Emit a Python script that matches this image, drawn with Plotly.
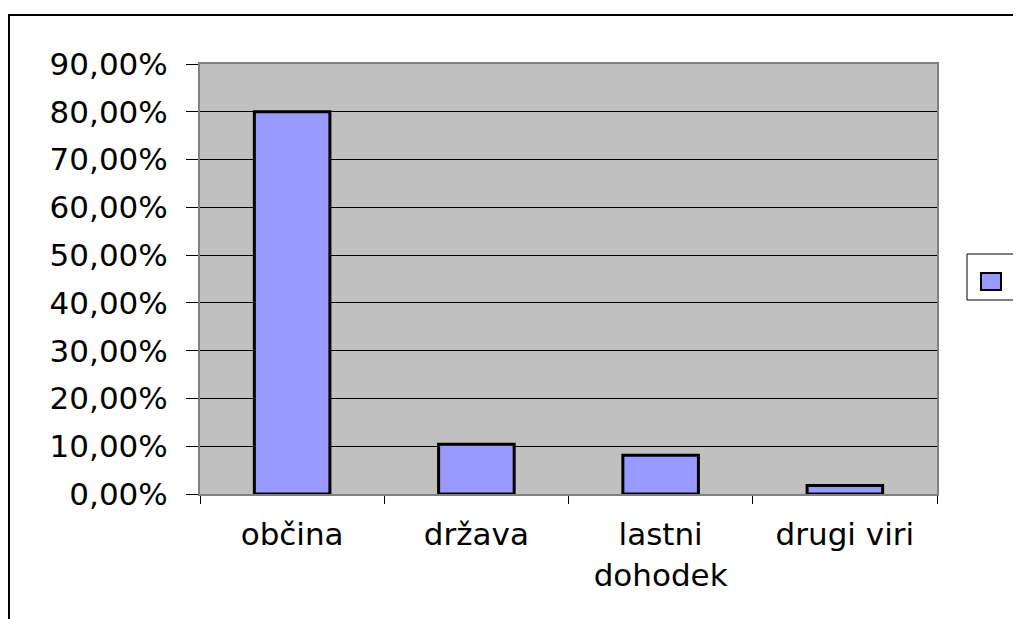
import plotly.graph_objects as go

# funding sources and their shares
categories = ["občina", "država", "lastni<br>dohodek", "drugi viri"]
shares = [0.80, 0.104, 0.081, 0.018]

y_ticks = [0.0, 0.1, 0.2, 0.3, 0.4, 0.5, 0.6, 0.7, 0.8, 0.9]

# the page body adds an 8px margin, so the figure itself is 8px smaller
OFF = 8
W, H = 1021 - OFF, 619 - OFF
L, R, T, B = 200 - OFF, 937 - OFF, 64 - OFF, 494 - OFF  # plot area in pixels


def px(x):
    return (x - OFF - L) / (R - L)


def py(y):
    return (B - (y - OFF)) / (B - T)


font = dict(family="DejaVu Sans", size=31, color="black")

fig = go.Figure(go.Bar(
    x=categories,
    y=shares,
    marker=dict(color="#9999FF", line=dict(color="black", width=3)),
    showlegend=False,
    hoverinfo="skip",
))

fig.update_layout(
    width=W, height=H,
    margin=dict(l=L, r=W - R, t=T, b=H - B),
    paper_bgcolor="white",
    plot_bgcolor="#C0C0C0",
    separators=",.",
    bargap=0.59,
    font=font,
)

fig.update_xaxes(
    tickson="boundaries",
    ticks="outside", ticklen=8, tickcolor="black", tickwidth=1,
    showline=True, linecolor="#808080", linewidth=2, mirror=True,
    showgrid=False, tickfont=font, ticklabelstandoff=12,
)

fig.update_yaxes(
    range=[0, 0.9], tickvals=y_ticks, tickformat=".2%",
    ticks="outside", ticklen=12, tickcolor="black", tickwidth=1,
    showline=True, linecolor="#808080", linewidth=2, mirror=True,
    showgrid=True, gridcolor="black", gridwidth=1,
    zeroline=False, tickfont=font, ticklabelstandoff=12,
)

# outer chart border and the (empty) legend box
fig.add_shape(type="rect", xref="paper", yref="paper",
              x0=px(9), x1=px(1040), y0=py(640), y1=py(15),
              line=dict(color="black", width=2), layer="above")
fig.add_shape(type="rect", xref="paper", yref="paper",
              x0=px(967), x1=px(1040), y0=py(300), y1=py(254),
              line=dict(color="black", width=1), fillcolor="white", layer="above")
fig.add_shape(type="rect", xref="paper", yref="paper",
              x0=px(981), x1=px(1001), y0=py(290), y1=py(273),
              line=dict(color="black", width=2), fillcolor="#9999FF", layer="above")

fig.write_html("out.html")
